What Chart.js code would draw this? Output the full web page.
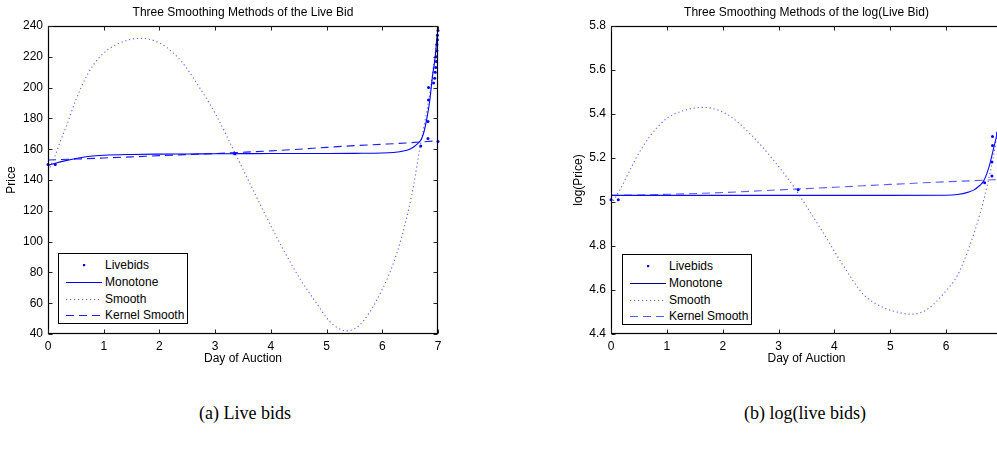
<!DOCTYPE html>
<html>
<head>
<meta charset="utf-8">
<script src="https://cdn.jsdelivr.net/npm/chart.js@4.4.1/dist/chart.umd.min.js"></script>
<style>
html,body{margin:0;padding:0;background:#fff;}
body{width:997px;height:450px;overflow:hidden;position:relative;font-family:"Liberation Sans",Arial,sans-serif;}
.wrap{position:absolute;top:0;height:380px;}
#w1{left:0;width:500px;}
#w2{left:500px;width:560px;}
.legend{position:absolute;width:128px;height:69px;border:1.3px solid #000;background:#fff;font-size:12px;color:#000;}
.row{position:absolute;left:0;height:14px;width:128px;}
.row svg{position:absolute;left:6px;top:2px;}
.row span{position:absolute;left:46px;top:0;line-height:14px;white-space:nowrap;}
.cap{position:absolute;top:403px;font-family:"Liberation Serif","DejaVu Serif",serif;font-size:18px;transform:translateX(-50%);white-space:nowrap;color:#000;}
</style>
</head>
<body>
<div class="wrap" id="w1"><canvas id="c1" width="500" height="380"></canvas></div>
<div class="wrap" id="w2"><canvas id="c2" width="560" height="380"></canvas></div>
<div class="legend" id="lg1" style="left:58px;top:253px;"></div>
<div class="legend" id="lg2" style="left:622px;top:254px;"></div>
<div class="cap" style="left:245px;">(a) Live bids</div>
<div class="cap" style="left:805px;">(b) log(live bids)</div>
<script>
// ---- tick values ----
const dayTicks = [0, 1, 2, 3, 4, 5, 6, 7];
const priceTicks = [40, 60, 80, 100, 120, 140, 160, 180, 200, 220, 240];
const logPriceTicks = [4.4, 4.6, 4.8, 5.0, 5.2, 5.4, 5.6, 5.8];
const seriesNames = ['Livebids', 'Monotone', 'Smooth', 'Kernel Smooth'];

// ---- live bids (price and log price) ----
const bidDays = [0.0, 0.13, 3.35, 6.69, 6.82, 6.82, 6.83, 6.83, 6.92, 6.94, 6.95, 6.96, 6.97, 6.97, 6.98, 6.98, 6.99, 6.99, 7.0, 7.0];
const bidPrice = [150, 150, 157, 162, 167, 178, 192, 200, 203, 206, 210, 213, 217, 220, 224, 228, 231, 234, 237, 165];
const bidLogPrice = [5.01, 5.01, 5.056, 5.088, 5.118, 5.182, 5.257, 5.298, 5.313, 5.328, 5.347, 5.361, 5.380, 5.394, 5.412, 5.429, 5.442, 5.455, 5.468, 5.106];

// ---- monotone fit ----
const monoDays = [0, 0.15, 0.3, 0.5, 0.75, 1, 1.5, 2, 2.5, 3, 3.5, 4, 4.5, 5, 5.5, 6, 6.2, 6.4, 6.5, 6.6, 6.7, 6.75, 6.8, 6.85, 6.9, 6.95, 6.98, 7.0];
const monoPrice = [149.5, 151, 152.4, 154, 155.4, 156.1, 156.6, 156.8, 156.9, 157, 157.1, 157.2, 157.2, 157.2, 157.3, 157.5, 157.9, 159, 160.2, 162.5, 166.5, 171.5, 180, 191, 207, 220, 232, 238];
const monoLogDays = [0, 0.5, 1, 2, 3, 4, 5, 6, 6.2, 6.4, 6.5, 6.6, 6.67, 6.73, 6.79, 6.85, 6.91, 7.0];
const monoLogPrice = [5.03, 5.03, 5.03, 5.03, 5.03, 5.03, 5.03, 5.031, 5.034, 5.045, 5.055, 5.075, 5.095, 5.13, 5.18, 5.245, 5.31, 5.45];

// ---- smooth fit ----
const smoothDays = [0, 0.04, 0.13, 0.22, 0.33, 0.5, 0.7, 0.93, 1.23, 1.65, 2.0, 2.37, 2.72, 3.02, 3.35, 3.62, 3.92, 4.22, 4.52, 4.82, 5.06, 5.36, 5.6, 5.9, 6.2, 6.4, 6.56, 6.68, 6.77, 6.86, 6.92, 6.98];
const smoothPrice = [146, 148.6, 156, 165, 175, 192, 208, 220, 228, 232, 229, 218, 200, 182, 158, 138, 116, 95, 76, 60, 48, 42, 46, 62, 86, 110, 136, 162, 179, 198, 214, 231];
const smoothLogDays = [0, 0.07, 0.16, 0.31, 0.45, 0.7, 1.0, 1.36, 1.65, 2.07, 2.49, 2.91, 3.27, 3.5, 3.8, 4.16, 4.52, 4.88, 5.12, 5.36, 5.65, 6.01, 6.2, 6.4, 6.61, 6.73, 6.84, 6.95];
const smoothLogPrice = [4.99, 5.017, 5.055, 5.13, 5.2, 5.3, 5.38, 5.42, 5.43, 5.40, 5.31, 5.19, 5.07, 4.98, 4.86, 4.71, 4.58, 4.52, 4.50, 4.49, 4.51, 4.60, 4.665, 4.785, 4.95, 5.07, 5.2, 5.36];

// ---- kernel smooth ----
const kernelDays = [0, 0.5, 1, 1.5, 2, 2.5, 3, 3.5, 4, 4.5, 5, 5.5, 6, 6.5, 6.95];
const kernelPrice = [153, 153.6, 154.3, 155, 155.8, 156.5, 157.2, 158, 158.9, 160, 161.2, 162.3, 163.2, 164.2, 165.4];
const kernelLogDays = [0, 1, 2, 3, 4, 5, 6, 6.5, 7];
const kernelLogPrice = [5.03, 5.035, 5.043, 5.055, 5.067, 5.08, 5.092, 5.097, 5.103];

function pts(xs, ys) { return xs.map((x, i) => ({ x: x, y: ys[i] })); }

Chart.defaults.font.family = '"Liberation Sans", Arial, sans-serif';
Chart.defaults.font.size = 12;
Chart.defaults.color = '#000';

const boxTicks = {
  id: 'boxTicks',
  afterDatasetsDraw(chart) {
    const ctx = chart.ctx;
    const a = chart.chartArea;
    const xs = chart.scales.x, ys = chart.scales.y;
    const L = Math.round(a.left) + 0.5, R = Math.round(a.right) - 0.5;
    const T = Math.round(a.top) + 0.5, B = Math.round(a.bottom) - 0.5;
    ctx.save();
    ctx.strokeStyle = '#000';
    ctx.lineWidth = 1.2;
    ctx.strokeRect(L, T, R - L, B - T);
    ctx.lineWidth = 1;
    ctx.strokeStyle = '#222';
    ctx.beginPath();
    xs.ticks.forEach(t => {
      const p = Math.round(xs.getPixelForValue(t.value)) + 0.5;
      ctx.moveTo(p, B); ctx.lineTo(p, B - 4);
      ctx.moveTo(p, T); ctx.lineTo(p, T + 4);
    });
    ys.ticks.forEach(t => {
      const p = Math.round(ys.getPixelForValue(t.value)) + 0.5;
      ctx.moveTo(L, p); ctx.lineTo(L + 4, p);
      ctx.moveTo(R, p); ctx.lineTo(R - 4, p);
    });
    ctx.stroke();
    ctx.restore();
  }
};

function makeChart(canvasId, cfg) {
  const line = (label, data, color, dash, width) => ({
    label: label, data: data, showLine: true, borderColor: color, backgroundColor: color,
    borderWidth: width || 1, borderDash: dash, pointRadius: 0, cubicInterpolationMode: 'monotone', fill: false
  });
  const datasets = [
    { label: seriesNames[0], data: cfg.bids, showLine: false, pointRadius: 1.5, pointBackgroundColor: '#0000ff',
      pointBorderWidth: 0, borderColor: '#0000ff', backgroundColor: '#0000ff', clip: false },
    line(seriesNames[1], cfg.mono, cfg.monoColor, [], 1.1),
    line(seriesNames[2], cfg.smooth, '#6060ff', [1.2, 2.8], 1.1),
    line(seriesNames[3], cfg.kernel, cfg.kernelColor, [8, 5], 1.1)
  ];
  return new Chart(document.getElementById(canvasId), {
    type: 'scatter',
    data: { datasets: datasets },
    options: {
      responsive: false, animation: false, events: [],
      layout: { padding: cfg.padding },
      plugins: {
        legend: { display: false }, tooltip: { enabled: false },
        title: { display: true, text: cfg.title, fullSize: false, color: '#000',
          font: { size: 12, weight: 'normal' }, padding: { top: 5.4, bottom: 6.2 } }
      },
      scales: {
        x: {
          type: 'linear', min: dayTicks[0], max: dayTicks[dayTicks.length - 1],
          afterBuildTicks: s => { s.ticks = dayTicks.map(v => ({ value: v })); },
          afterFit: s => { s.height = 46; },
          grid: { display: false, drawTicks: false }, border: { display: false },
          ticks: { padding: 5, color: '#000', font: { size: 12 }, callback: v => String(v), maxRotation: 0 },
          title: { display: true, text: 'Day of Auction', color: '#000', font: { size: 12 }, padding: { top: 0, bottom: 13.8 } }
        },
        y: {
          type: 'linear', min: cfg.yTicks[0], max: cfg.yTicks[cfg.yTicks.length - 1],
          afterBuildTicks: s => { s.ticks = cfg.yTicks.map(v => ({ value: v })); },
          afterFit: s => { s.width = 48; },
          grid: { display: false, drawTicks: false }, border: { display: false },
          ticks: { padding: 5, color: '#000', font: { size: 12 }, callback: v => String(Math.round(v * 10) / 10) },
          title: { display: true, text: cfg.yTitle, color: '#000', font: { size: 12 }, padding: { top: cfg.yTitlePad, bottom: 0 } }
        }
      }
    },
    plugins: [boxTicks]
  });
}

const chart1 = makeChart('c1', {
  title: 'Three Smoothing Methods of the Live Bid', yTitle: 'Price', yTitlePad: 4.8,
  yTicks: priceTicks, padding: { left: 0, right: 62, top: 0, bottom: 0 },
  bids: pts(bidDays, bidPrice), mono: pts(monoDays, monoPrice), smooth: pts(smoothDays, smoothPrice), kernel: pts(kernelDays, kernelPrice),
  monoColor: '#0000ff', kernelColor: '#1a1aff'
});
const chart2 = makeChart('c2', {
  title: 'Three Smoothing Methods of the log(Live Bid)', yTitle: 'log(Price)', yTitlePad: 8.8,
  yTicks: logPriceTicks, padding: { left: 63, right: 58, top: 0, bottom: 0 },
  bids: pts(bidDays, bidLogPrice), mono: pts(monoLogDays, monoLogPrice), smooth: pts(smoothLogDays, smoothLogPrice), kernel: pts(kernelLogDays, kernelLogPrice),
  monoColor: '#0a0aff', kernelColor: '#5a5aff'
});

function buildLegend(elId, chart, overrides) {
  const el = document.getElementById(elId);
  const rowTops = [4, 21, 38, 54];
  chart.data.datasets.forEach((ds, i) => {
    const row = document.createElement('div');
    row.className = 'row';
    row.style.top = rowTops[i] + 'px';
    const color = (overrides && overrides[i]) || ds.borderColor;
    let sym;
    if (!ds.showLine) {
      sym = '<rect x="18" y="4" width="2.2" height="2.2" fill="' + color + '"/>';
    } else {
      const dash = ds.borderDash && ds.borderDash.length ? ' stroke-dasharray="' + ds.borderDash.join(' ') + '"' : '';
      sym = '<line x1="1" y1="5.5" x2="37" y2="5.5" stroke="' + color + '" stroke-width="1.1"' + dash + '/>';
    }
    row.innerHTML = '<svg width="38" height="11" viewBox="0 0 38 11">' + sym + '</svg><span>' + ds.label + '</span>';
    el.appendChild(row);
  });
}
buildLegend('lg1', chart1);
buildLegend('lg2', chart2, { 1: '#000080' });
</script>
</body>
</html>
